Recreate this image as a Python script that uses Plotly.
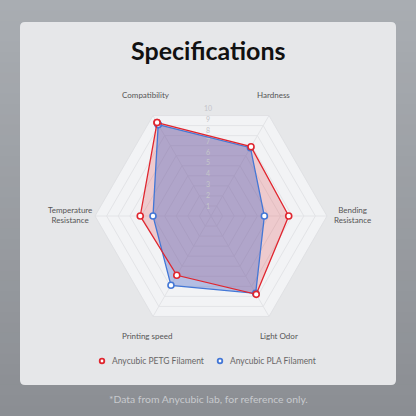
import plotly.graph_objects as go

# ---------------- data ----------------
categories = ["Compatibility", "Hardness", "Bending<br>Resistance",
              "Light Odor", "Printing speed", "Temperature<br>Resistance"]
petg_values = [9.3, 6.9, 6.7, 7.8, 5.9, 6.1]
pla_values = [9.1, 6.8, 4.6, 7.7, 6.9, 5.0]
series_names = ["Anycubic PETG Filament", "Anycubic PLA Filament"]
radial_ticks = [1, 2, 3, 4, 5, 6, 7, 8, 9, 10]

title_text = "Specifications"
footnote_text = "*Data from Anycubic lab, for reference only."

RED = "#e0262f"
BLUE = "#4377d6"
W = H = 416


def px(x):
    return x / W


def py(y):
    return 1 - y / H


def closed(v):
    return list(v) + [v[0]]


theta = closed(categories)

fig = go.Figure()
# PETG fill (beneath)
fig.add_trace(go.Scatterpolar(r=closed(petg_values), theta=theta, mode="lines",
                              fill="toself", fillcolor="rgba(224,38,47,0.20)",
                              line=dict(width=0, color=RED), showlegend=False,
                              hoverinfo="skip"))
# PLA fill + line + markers
fig.add_trace(go.Scatterpolar(r=closed(pla_values), theta=theta, mode="lines+markers",
                              name=series_names[1],
                              fill="toself", fillcolor="rgba(76,104,198,0.38)",
                              line=dict(width=1.3, color=BLUE),
                              marker=dict(size=6, color="white", line=dict(width=1.6, color=BLUE)),
                              showlegend=False))
# PETG line + markers (on top)
fig.add_trace(go.Scatterpolar(r=closed(petg_values), theta=theta, mode="lines+markers",
                              name=series_names[0],
                              line=dict(width=1.3, color=RED),
                              marker=dict(size=6, color="white", line=dict(width=1.6, color=RED)),
                              showlegend=False))

shapes = []
# background vertical gradient
n = 40
top = (169, 173, 178)
bot = (139, 142, 147)
for i in range(n):
    t = i / (n - 1)
    c = tuple(int(round(top[k] + (bot[k] - top[k]) * t)) for k in range(3))
    shapes.append(dict(type="rect", xref="paper", yref="paper", x0=0, x1=1,
                       y0=1 - (i + 1) / n - 0.002, y1=1 - i / n,
                       fillcolor="rgb(%d,%d,%d)" % c, line=dict(width=0), layer="below"))
# card with rounded corners
x0, x1, y0, y1, r = 20, 396, 22, 385, 5
path = (f"M {px(x0 + r)},{py(y0)} L {px(x1 - r)},{py(y0)} Q {px(x1)},{py(y0)} {px(x1)},{py(y0 + r)} "
        f"L {px(x1)},{py(y1 - r)} Q {px(x1)},{py(y1)} {px(x1 - r)},{py(y1)} "
        f"L {px(x0 + r)},{py(y1)} Q {px(x0)},{py(y1)} {px(x0)},{py(y1 - r)} "
        f"L {px(x0)},{py(y0 + r)} Q {px(x0)},{py(y0)} {px(x0 + r)},{py(y0)} Z")
shapes.append(dict(type="path", xref="paper", yref="paper", path=path,
                   fillcolor="#e6e7e9", line=dict(width=0), layer="below"))

# category label anchor positions (pixels)
label_pos = [(146, 95), (273, 95), (352, 215), (279, 336), (147, 336), (70, 215)]
annotations = [
    dict(text="<b>" + title_text + "</b>", x=px(208), y=py(50), xref="paper", yref="paper",
         showarrow=False, xanchor="center", yanchor="middle",
         font=dict(size=25, color="#111111")),
    dict(text=footnote_text, x=px(208), y=py(399), xref="paper", yref="paper",
         showarrow=False, xanchor="center", yanchor="middle",
         font=dict(size=10.4, color="#c8cace")),
]
for cat, (lx, ly) in zip(categories, label_pos):
    annotations.append(dict(text=cat, x=px(lx), y=py(ly), xref="paper", yref="paper",
                            showarrow=False, xanchor="center", yanchor="middle",
                            font=dict(size=8, color="#555555")))
# radial tick labels drawn along the vertical through the centre
tick_x, tick_y1, tick_step = 208, 206, 10.9
for k in radial_ticks:
    annotations.append(dict(text=str(k), x=px(tick_x), y=py(tick_y1 - (k - 1) * tick_step),
                            xref="paper", yref="paper", showarrow=False,
                            xanchor="center", yanchor="middle",
                            font=dict(size=7, color="#c4c5c9")))

# legend (ring symbol + label) for each series
legend_y = 361
legend_x = [102, 220]
for name, col, lx in zip(series_names, [RED, BLUE], legend_x):
    shapes.append(dict(type="circle", xref="paper", yref="paper",
                       x0=px(lx - 2.3), x1=px(lx + 2.3), y0=py(legend_y + 2.3), y1=py(legend_y - 2.3),
                       fillcolor="white", line=dict(color=col, width=1.8)))
    annotations.append(dict(text=name, x=px(lx + 8), y=py(legend_y), xref="paper", yref="paper",
                            showarrow=False, xanchor="left", yanchor="middle",
                            font=dict(size=8.5, color="#666666")))

cx, cy, R = 211, 216, 116
fig.update_layout(
    width=W, height=H,
    margin=dict(l=0, r=0, t=0, b=0),
    paper_bgcolor="#9da0a5",
    shapes=shapes,
    showlegend=False,
    font=dict(family="Lato, 'Noto Sans', sans-serif"),
    polar=dict(
        domain=dict(x=[px(cx - R), px(cx + R)], y=[py(cy + R), py(cy - R)]),
        bgcolor="#f2f3f5",
        gridshape="linear",
        angularaxis=dict(type="category", rotation=120, direction="clockwise",
                         showline=True, linecolor="#e0e1e4", linewidth=1,
                         gridcolor="#e3e4e7", showticklabels=False, ticks=""),
        radialaxis=dict(range=[0, 10], tickvals=radial_ticks, showticklabels=False,
                        showline=False, ticks="", gridcolor="#e3e4e7"),
    ),
    annotations=annotations,
)

fig.write_html("out.html", config={"displayModeBar": False},
               post_script="document.body.style.margin='0px';")
